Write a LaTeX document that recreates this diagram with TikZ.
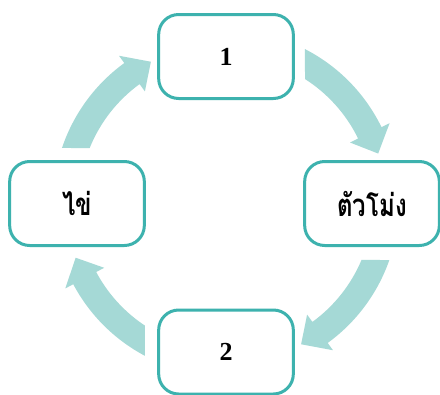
\documentclass[tikz,border=0pt]{standalone}
\usepackage{graphicx}
\usepackage{fontspec}
\setmainfont{Liberation Serif}
\newfontfamily\thaifont[Script=Thai]{Loma}
\definecolor{boxline}{HTML}{3DB2AE}
\definecolor{arrowfill}{HTML}{A5D9D6}
\newcommand{\thaitext}[1]{\scalebox{1.0}[1.3]{\fontsize{18}{21}\selectfont\thaifont #1}}
\begin{document}
\begin{tikzpicture}[x=0.75pt,y=0.75pt,
  box/.style={draw=boxline, line width=2.25pt, rounded corners=15pt, fill=white,
    minimum width=101pt, minimum height=63pt, inner sep=0pt,
    font=\fontsize{19.5}{22}\selectfont\bfseries},
  cyc/.style={fill=arrowfill}]
\useasboundingbox (0,0) rectangle (440,394);
\clip (0,0) rectangle (440,394);
\fill[white] (0,0) rectangle (440,394);
\begin{scope}[shift={(226,191)}]
  \fill[cyc] (62.83:173) arc[start angle=62.83, end angle=26, radius=173]
    -- (26:182) -- (18:160) -- (26:138) -- (26:147)
    arc[start angle=26, end angle=57.49, radius=147] -- cycle;
  \fill[cyc] (-19.24:173) arc[start angle=-19.24, end angle=-54, radius=173]
    -- (-54:182) -- (-62:160) -- (-54:138) -- (-54:147)
    arc[start angle=-54, end angle=-22.81, radius=147] -- cycle;
  \fill[cyc] (-117.92:173) arc[start angle=-117.92, end angle=-152, radius=173]
    -- (-152:182) -- (-160:160) -- (-152:138) -- (-152:147)
    arc[start angle=-152, end angle=-123.44, radius=147] -- cycle;
  \fill[cyc] (161.46:173) arc[start angle=161.46, end angle=126, radius=173]
    -- (126:182) -- (118:160) -- (126:138) -- (126:147)
    arc[start angle=126, end angle=158.03, radius=147] -- cycle;
\end{scope}
\node[box] (one) at (226,337.5) {1};
\node[box] (pupa) at (372,190.5) {\thaitext{ตัวโม่ง}};
\node[box] (two) at (226,42) {2};
\node[box] (egg) at (77,190.5) {\thaitext{ไข่}};
\end{tikzpicture}
\end{document}
